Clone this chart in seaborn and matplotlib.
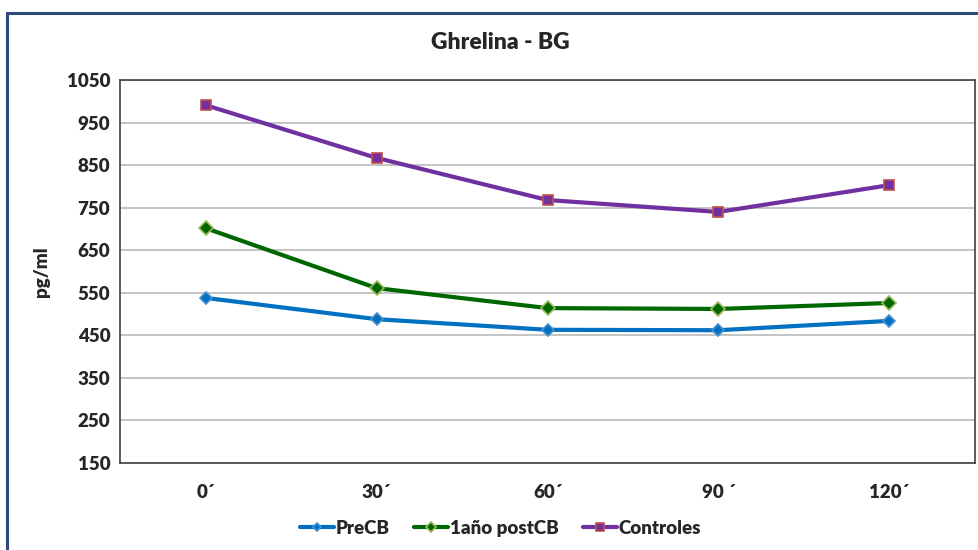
import matplotlib
matplotlib.use("Agg")
import matplotlib.pyplot as plt
from matplotlib.patches import Rectangle
import seaborn as sns
import pandas as pd

# Sampling times (minutes) and mean ghrelin levels per group
tiempos = ["0´", "30´", "60´", "90 ´", "120´"]
pre_cb = [538, 488, 463, 462, 484]
post_cb = [702, 561, 514, 512, 526]
controles = [991, 867, 768, 740, 803]

grupos = ["PreCB", "1año postCB", "Controles"]
valores = [pre_cb, post_cb, controles]

df = pd.DataFrame({
    "tiempo": [t for _ in grupos for t in tiempos],
    "x": [i for _ in grupos for i in range(len(tiempos))],
    "grupo": [g for g in grupos for _ in tiempos],
    "pg": [v for serie in valores for v in serie],
})

sns.set_theme(style="white")
plt.rcParams["font.family"] = ["Lato", "DejaVu Sans"]

fig = plt.figure(figsize=(9.79, 5.5), dpi=100)
ax = fig.add_axes([0.1226, 0.1582, 0.8733, 0.6963])

line_colors = {"PreCB": "#0070C0", "1año postCB": "#006600", "Controles": "#7030A0"}
markers = {"PreCB": "D", "1año postCB": "D", "Controles": "s"}
edge_colors = {"PreCB": "#4A8FD0", "1año postCB": "#9BBB59", "Controles": "#C0504D"}
marker_sizes = {"PreCB": 6, "1año postCB": 7, "Controles": 7}

for g in grupos:
    sub = df[df["grupo"] == g]
    sns.lineplot(data=sub, x="x", y="pg", ax=ax, color=line_colors[g],
                 linewidth=3, marker=markers[g], markersize=marker_sizes[g],
                 markerfacecolor=line_colors[g], markeredgecolor=edge_colors[g],
                 markeredgewidth=1.2, label=g, sort=False)

ax.set_xlim(-0.5, len(tiempos) - 0.5)
ax.set_ylim(150, 1050)
ax.set_yticks(range(150, 1051, 100))
ax.set_xticks(range(len(tiempos)))
ax.set_xticklabels(tiempos)
ax.tick_params(axis="both", labelsize=13.5, length=0, pad=7)
ax.tick_params(axis="x", pad=15)
for lbl in ax.get_xticklabels() + ax.get_yticklabels():
    lbl.set_fontweight("heavy")

ax.grid(axis="y", color="#BFBFBF", linewidth=1.3)
ax.set_axisbelow(True)
for s in ax.spines.values():
    s.set_color("#404040")
    s.set_linewidth(1.2)

ax.set_xlabel("")
ax.set_ylabel("pg/ml", fontsize=13.5, fontweight="heavy", labelpad=12)

fig.text(0.511, 0.923, "Ghrelina - BG", ha="center", va="center",
         fontsize=16.5, fontweight="heavy")

leg = ax.legend(loc="center", bbox_to_anchor=(0.445, -0.17), ncol=3,
                frameon=False, fontsize=13.5, handlelength=1.8,
                handletextpad=0.1, columnspacing=1.3, markerscale=0.75)
for t in leg.get_texts():
    t.set_fontweight("heavy")

# Outer frame of the chart area
fig.patches.append(Rectangle((7 / 979, -0.05), 1.1, 1 - 13 / 550 + 0.05,
                             transform=fig.transFigure, fill=False,
                             edgecolor="#2F4A7A", linewidth=2.2))

fig.savefig("out.png", dpi=100)
